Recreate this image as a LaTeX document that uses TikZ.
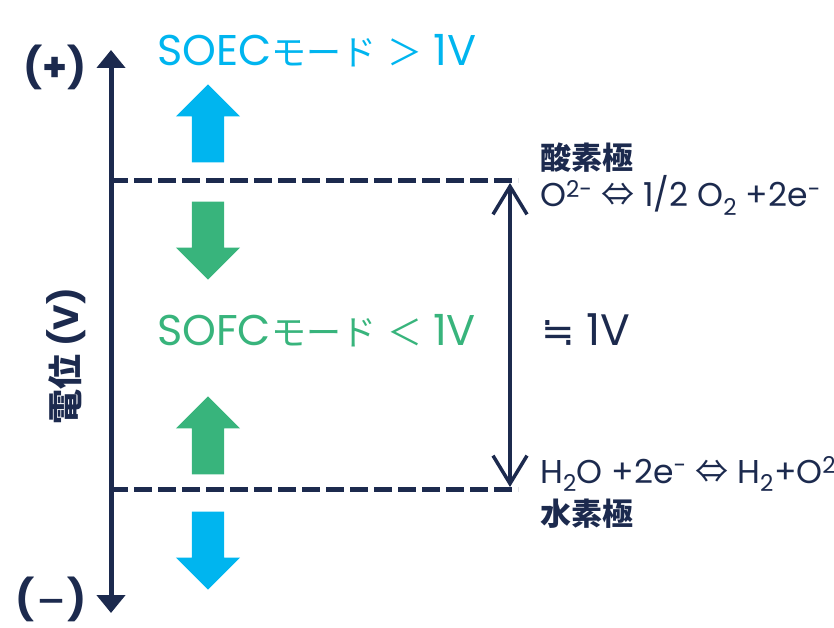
\documentclass[tikz,border=0pt]{standalone}
\usepackage{fontspec}
\setmainfont{Poppins}
\newfontfamily\cjk{Noto Sans CJK JP}
\newfontfamily\symb{DejaVu Sans}
\usepackage{xcolor}
\usepackage{tikz}
\usetikzlibrary{arrows.meta,positioning,shapes.arrows}
\definecolor{navy}{HTML}{1C2A4E}
\definecolor{soeccol}{HTML}{00B5EF}
\definecolor{sofccol}{HTML}{38B47C}
\newcommand{\jp}[1]{{\fontsize{35}{38}\selectfont\cjk #1}}

\begin{document}
\begin{tikzpicture}[x=1pt,y=-1pt,font=\fontsize{33}{36}\selectfont,
 blk/.style={single arrow,draw=none,inner sep=16pt,minimum height=78pt,
   single arrow head extend=16pt,single arrow tip angle=90,anchor=tip},
 axis/.style={navy,line width=5pt,{Triangle[width=28pt,length=18pt]}-{Triangle[width=28pt,length=18pt]}},
 level/.style={navy,line width=5pt,dash pattern=on 18pt off 6pt},
 dimarrow/.style={navy,line width=3.5pt,line cap=round,line join=round,
   {Straight Barb[length=28pt,width=34pt]}-{Straight Barb[length=28pt,width=34pt]}},
 lab/.style={navy,anchor=base west,inner sep=0pt},
 mode/.style={anchor=base west,inner sep=0pt,font=\fontsize{43}{46}\selectfont}]
\useasboundingbox (0,0) rectangle (834,628);
% axis and potential levels
\coordinate (axtop) at (111,50);
\coordinate (axbot) at (111,613);
\coordinate (oxl) at (110,181);
\coordinate (oxr) at (518,181);
\coordinate (hyl) at (110,489);
\coordinate (hyr) at (518,489);
\coordinate (dimtop) at (510,183);
\coordinate (dimbot) at (510,487);
\draw[axis] (axbot)--(axtop);
\draw[level] (oxl)--(oxr);
\draw[level] (hyl)--(hyr);
\draw[dimarrow] (dimbot)--(dimtop);
% block arrows
\node[blk,fill=soeccol,shape border rotate=90] (soecup) at (208,84) {};
\node[blk,fill=sofccol,shape border rotate=270] (sofcdown) at (208,280) {};
\node[blk,fill=sofccol,shape border rotate=90] (sofcup) at (208,396) {};
\node[blk,fill=soeccol,shape border rotate=270] (soecdown) at (208,590) {};
% labels
\node[navy,font=\fontsize{40}{42}\selectfont\bfseries] (plus) at (55,67) {(+)};
\node[navy,font=\fontsize{40}{42}\selectfont\bfseries] (minus) at (51,599) {({\fontsize{32}{34}\selectfont\cjk －})};
\node[navy,rotate=90,font=\fontsize{35}{38}\selectfont\bfseries] (ylabel) at (66,356) {{\cjk 電位} (V)};
\node[mode,soeccol] (soec) at (157,66) {SOEC\jp{モード}\hspace{11pt}\jp{＞}\hspace{11pt}1V};
\node[mode,sofccol] (sofc) at (157,345) {SOFC\jp{モード}\hspace{11pt}\jp{＜}\hspace{11pt}1V};
\node[lab,font=\fontsize{31}{34}\selectfont\cjk\bfseries] (oxname) at (540,170) {酸素極};
\node[lab] (oxreact) at (540,207) {O\textsuperscript{2-} {\cjk ⇔} 1/2 O\textsubscript{2} +2e\textsuperscript{-}};
\node[lab,font=\fontsize{44}{46}\selectfont] (volt) at (541,345) {{\fontsize{40}{44}\selectfont\symb ≒}\hspace{12pt}1V};
\node[lab] (hyreact) at (540,483) {H\textsubscript{2}O +2e\textsuperscript{-} {\cjk ⇔} H\textsubscript{2}+O\textsuperscript{2-}};
\node[lab,font=\fontsize{31}{34}\selectfont\cjk\bfseries] (hyname) at (540,525) {水素極};
\end{tikzpicture}
\end{document}
